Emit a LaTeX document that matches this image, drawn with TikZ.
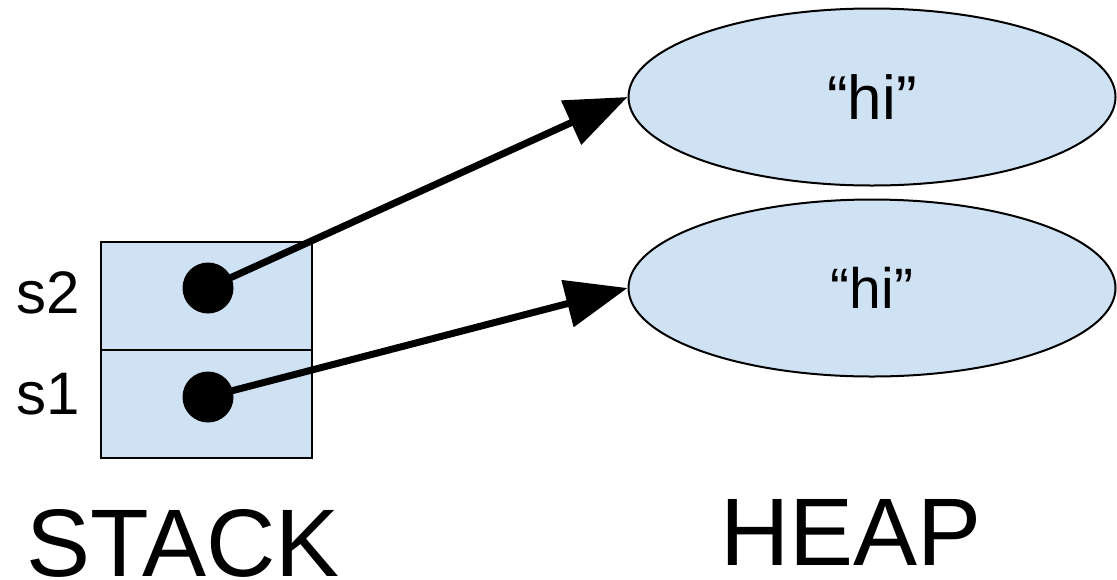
\documentclass[tikz,border=0pt]{standalone}
\usepackage{fontspec}
\setmainfont{Liberation Sans}
\usetikzlibrary{arrows.meta,shapes.geometric}
\definecolor{cellblue}{HTML}{CFE2F3}
\begin{document}
\begin{tikzpicture}[x=1pt,y=-1pt,
  cell/.style={draw=black,line width=2pt,fill=cellblue,rectangle,minimum width=211pt,minimum height=108pt,inner sep=0pt},
  blob/.style={draw=black,line width=2pt,fill=cellblue,ellipse,minimum width=487pt,minimum height=177pt,inner sep=0pt},
  ref/.style={circle,fill=black,minimum size=51pt,inner sep=0pt},
  pointer/.style={line width=7pt,-{Triangle[length=62pt,width=47pt]}},
  lbl/.style={anchor=base west,inner sep=0pt},
  title/.style={anchor=base,inner sep=0pt,text depth=0pt,text height=69pt,font=\fontsize{96}{104}\selectfont}]
\useasboundingbox (0,0) rectangle (1117,579);
% stack cells
\node[cell] (c2) at (206,296) {};
\node[cell] (c1) at (206,404) {};
% heap objects
\node[blob] (h1) at (872,97) {\fontsize{62}{70}\selectfont “hi”};
\node[blob] (h2) at (872,288) {\fontsize{57}{64}\selectfont “hi”};
% references held in the stack
\node[ref] (d2) at (208,288) {};
\node[ref] (d1) at (208,397) {};
\draw[pointer] (d2.center) -- (h1.west);
\draw[pointer] (d1.center) -- (h2.west);
% labels
\node[lbl] (ls2) at (16,313) {\fontsize{60}{66}\selectfont s2};
\node[lbl] (ls1) at (16,414) {\fontsize{60}{66}\selectfont s1};
\node[title] (stack) at (183,576) {STACK};
\node[title] (heap) at (851,565) {HEAP};
\end{tikzpicture}
\end{document}
